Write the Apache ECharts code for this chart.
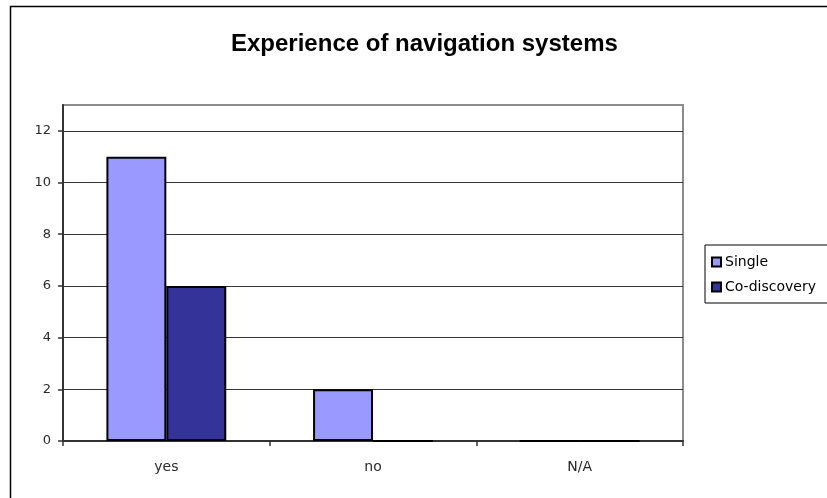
<!DOCTYPE html>
<html>
<head>
<meta charset="utf-8">
<script src="https://cdn.jsdelivr.net/npm/echarts@6/dist/echarts.min.js"></script>
<style>
  html, body { margin: 0; padding: 0; background: #fff; }
  #chart { width: 827px; height: 498px; }
</style>
</head>
<body>
<div id="chart"></div>
<script>
// Survey answers: prior experience with navigation systems
const categories = ['yes', 'no', 'N/A'];
const singleValues = [11, 2, 0];
const coDiscoveryValues = [6, 0, 0];
const yTickValues = [0, 2, 4, 6, 8, 10, 12];
const seriesNames = ['Single', 'Co-discovery'];

const chart = echarts.init(document.getElementById('chart'), null, { renderer: 'canvas' });

const axisFont = { fontFamily: 'DejaVu Sans', fontSize: 13, color: '#2a2a2a' };

chart.setOption({
  animation: false,
  backgroundColor: '#fff',
  graphic: [{
    type: 'rect',
    left: 8, top: 4,
    shape: { width: 830, height: 500 },
    style: { fill: 'none', stroke: '#000', lineWidth: 1.5 },
    silent: true,
    z: 100
  }],
  title: {
    text: 'Experience of navigation systems',
    left: 226,
    top: 27,
    textStyle: { fontFamily: 'Liberation Sans', fontWeight: 'bold', fontSize: 24, color: '#000' }
  },
  legend: {
    data: seriesNames,
    orient: 'vertical',
    left: 705,
    top: 245,
    padding: [10, 12, 9, 6],
    itemGap: 11,
    itemWidth: 9,
    itemHeight: 9,
    icon: 'rect',
    borderColor: '#000',
    borderWidth: 1,
    textStyle: { fontFamily: 'DejaVu Sans', fontSize: 14, color: '#000', padding: [0, 0, 0, -1] }
  },
  grid: {
    left: 63,
    right: 144,
    top: 105,
    bottom: 57,
    show: true,
    borderColor: '#8c8c8c',
    borderWidth: 2,
    backgroundColor: '#fff'
  },
  xAxis: {
    type: 'category',
    data: categories,
    axisLine: { lineStyle: { color: '#333', width: 2 } },
    axisTick: { show: true, alignWithLabel: false, length: 5, lineStyle: { color: '#333', width: 1.5 } },
    axisLabel: Object.assign({ margin: 19 }, axisFont, { fontSize: 14 })
  },
  yAxis: {
    type: 'value',
    min: 0,
    max: 13,
    interval: 2,
    axisLine: { show: true, lineStyle: { color: '#333', width: 2 } },
    axisTick: { show: true, length: 5, customValues: yTickValues, lineStyle: { color: '#333', width: 1.5 } },
    axisLabel: Object.assign({ margin: 12, customValues: yTickValues }, axisFont),
    splitLine: { show: true, lineStyle: { color: '#333', width: 1 } }
  },
  series: [
    {
      name: seriesNames[0],
      type: 'bar',
      data: singleValues,
      barGap: '0%',
      barCategoryGap: '42%',
      itemStyle: { color: '#9999ff', borderColor: '#000', borderWidth: 2 }
    },
    {
      name: seriesNames[1],
      type: 'bar',
      data: coDiscoveryValues,
      itemStyle: { color: '#333399', borderColor: '#000', borderWidth: 2 }
    }
  ]
});
</script>
</body>
</html>
